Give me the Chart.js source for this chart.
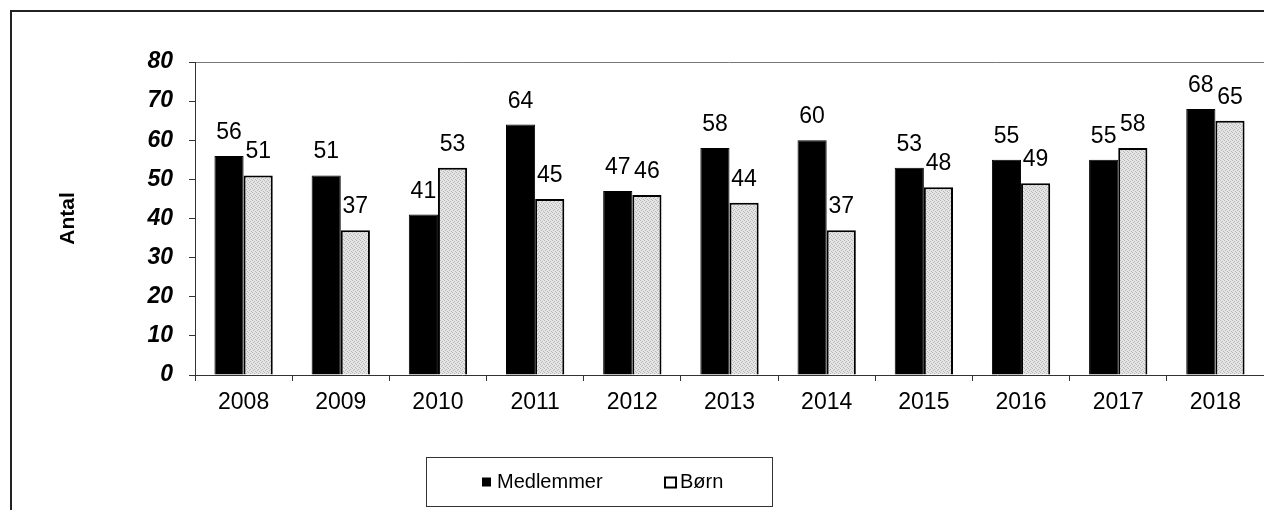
<!DOCTYPE html>
<html>
<head>
<meta charset="utf-8">
<script src="https://cdn.jsdelivr.net/npm/chart.js@4"></script>
<style>
  html, body { margin: 0; padding: 0; background: #fff; }
  #wrap { position: relative; width: 1264px; height: 510px; }
</style>
</head>
<body>
<div id="wrap"><canvas id="chart"></canvas></div>
<script>
// Data
const years = ['2008', '2009', '2010', '2011', '2012', '2013', '2014', '2015', '2016', '2017', '2018'];
const medlemmer = [56, 51, 41, 64, 47, 58, 60, 53, 55, 55, 68];
const boern = [51, 37, 53, 45, 46, 44, 37, 48, 49, 58, 65];
const seriesNames = ['Medlemmer', 'Børn'];
const yTicks = [0, 10, 20, 30, 40, 50, 60, 70, 80];

const FONT = '"Liberation Sans", Arial, sans-serif';

// fine grey dot texture like the scanned fill
function dotPattern() {
  const c = document.createElement('canvas');
  c.width = 4; c.height = 4;
  const g = c.getContext('2d');
  g.fillStyle = '#e4e4e4';
  g.fillRect(0, 0, 4, 4);
  g.fillStyle = '#b8b8b8';
  g.fillRect(0, 0, 1, 1);
  g.fillRect(2, 1, 1, 1);
  g.fillRect(1, 2, 1, 1);
  g.fillRect(3, 3, 1, 1);
  return g.createPattern(c, 'repeat');
}

// outer frame + plot top line
const frame = {
  id: 'frame',
  beforeDraw(chart) {
    const { ctx, chartArea: a } = chart;
    ctx.save();
    ctx.strokeStyle = '#222';
    ctx.lineWidth = 2;
    ctx.strokeRect(11, 11, chart.width + 20, chart.height + 20);
    ctx.strokeStyle = '#777';
    ctx.lineWidth = 1;
    ctx.beginPath();
    ctx.moveTo(a.left, a.top + 0.5);
    ctx.lineTo(chart.width, a.top + 0.5);
    ctx.stroke();
    ctx.restore();
  }
};

// value labels above every bar
const valueLabels = {
  id: 'valueLabels',
  afterDatasetsDraw(chart) {
    const { ctx } = chart;
    ctx.save();
    ctx.font = '23px ' + FONT;
    ctx.fillStyle = '#000';
    ctx.textAlign = 'center';
    ctx.textBaseline = 'alphabetic';
    chart.data.datasets.forEach((ds, i) => {
      chart.getDatasetMeta(i).data.forEach((bar, j) => {
        ctx.fillText(String(ds.data[j]), bar.x, bar.y - 17);
      });
    });
    ctx.restore();
  }
};

// boxed legend under the plot
const boxLegend = {
  id: 'boxLegend',
  afterDraw(chart) {
    const { ctx } = chart;
    const box = { x: 426, y: 457, w: 346, h: 49 };
    ctx.save();
    ctx.strokeStyle = '#333';
    ctx.lineWidth = 1;
    ctx.strokeRect(box.x + 0.5, box.y + 0.5, box.w, box.h);
    ctx.font = '20px ' + FONT;
    ctx.fillStyle = '#000';
    ctx.textBaseline = 'middle';
    const cy = box.y + box.h / 2 + 1;
    const ds = chart.data.datasets;
    // Medlemmer
    ctx.fillStyle = '#000';
    ctx.fillRect(482, cy - 5, 9, 9);
    ctx.fillText(ds[0].label, 497, cy);
    // Børn
    ctx.fillStyle = '#fff';
    ctx.fillRect(665, cy - 5, 11, 10);
    ctx.strokeStyle = '#000';
    ctx.lineWidth = 2;
    ctx.strokeRect(665, cy - 5, 11, 10);
    ctx.fillStyle = '#000';
    ctx.fillText(ds[1].label, 680, cy);
    ctx.restore();
  }
};

new Chart(document.getElementById('chart'), {
  type: 'bar',
  data: {
    labels: years,
    datasets: [
      {
        label: seriesNames[0],
        data: medlemmer,
        backgroundColor: '#000',
        borderColor: '#000',
        borderWidth: 1
      },
      {
        label: seriesNames[1],
        data: boern,
        backgroundColor: dotPattern(),
        borderColor: '#000',
        borderWidth: 2
      }
    ]
  },
  options: {
    responsive: true,
    maintainAspectRatio: false,
    animation: false,
    categoryPercentage: 0.6,
    barPercentage: 1,
    layout: { padding: { left: 52, top: 62, right: 0, bottom: 0 } },
    plugins: {
      legend: { display: false },
      tooltip: { enabled: false }
    },
    scales: {
      x: {
        afterFit: s => { s.height = 135; },
        grid: {
          drawOnChartArea: false,
          drawTicks: true,
          tickLength: 6,
          color: '#333'
        },
        border: { color: '#333', width: 1 },
        ticks: {
          color: '#000',
          padding: 8,
          maxRotation: 0,
          font: { family: FONT, size: 23 }
        }
      },
      y: {
        min: 0,
        max: 80,
        afterFit: s => { s.width = 143; },
        afterBuildTicks: s => { s.ticks = yTicks.map(v => ({ value: v })); },
        grid: {
          drawOnChartArea: false,
          drawTicks: true,
          tickLength: 6,
          color: '#333'
        },
        border: { color: '#333', width: 1 },
        ticks: {
          color: '#000',
          padding: 16,
          font: { family: FONT, size: 23, weight: 'bold', style: 'italic' }
        },
        title: {
          display: true,
          text: 'Antal',
          color: '#000',
          font: { family: FONT, size: 21, weight: 'bold' }
        }
      }
    }
  },
  plugins: [frame, valueLabels, boxLegend]
});
</script>
</body>
</html>
